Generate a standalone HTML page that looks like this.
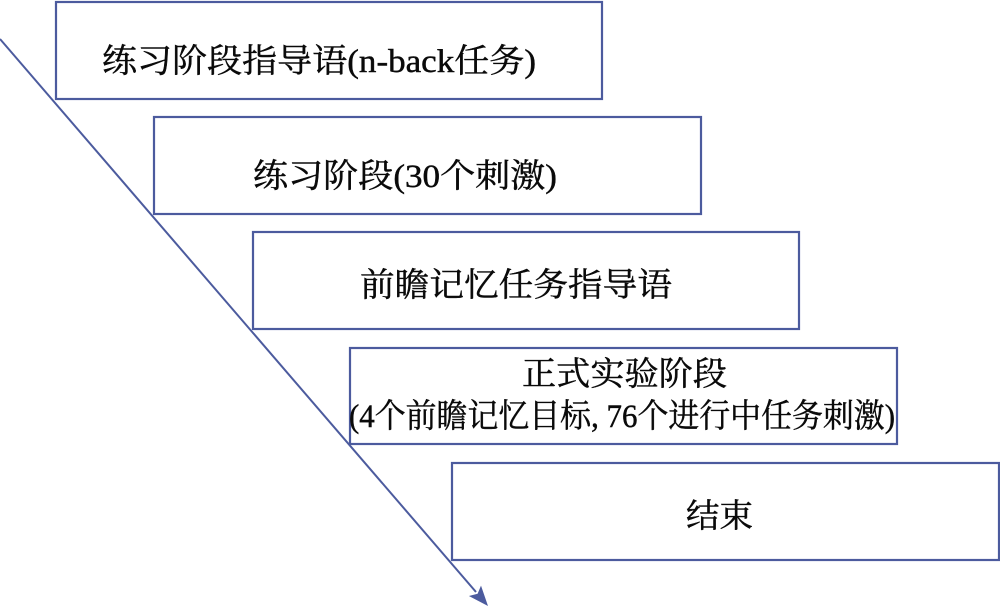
<!DOCTYPE html>
<html>
<head>
<meta charset="utf-8">
<style>
  html, body { margin: 0; padding: 0; background: #ffffff; }
  body { width: 1000px; height: 607px; overflow: hidden; }
  svg { display: block; }
  text { font-family: "Liberation Serif", "Noto Serif CJK SC", serif; fill: #0a0a0a; stroke: #0a0a0a; stroke-width: 0.45px; font-size: 33px; }
</style>
</head>
<body>
<svg width="1000" height="607" viewBox="0 0 1000 607" xmlns="http://www.w3.org/2000/svg">
  <rect x="0" y="0" width="1000" height="607" fill="#ffffff"/>

  <!-- diagonal arrow -->
  <line x1="0" y1="39" x2="476" y2="592" stroke="#4c5b9e" stroke-width="2"/>
  <polygon points="488,606 468.9,596 477.6,593.8 481,585.6" fill="#4c5b9e"/>

  <!-- boxes -->
  <rect x="56" y="2" width="546" height="97" fill="#ffffff" stroke="#4c5b9e" stroke-width="2.2"/>
  <rect x="154" y="117" width="547" height="97" fill="#ffffff" stroke="#4c5b9e" stroke-width="2.2"/>
  <rect x="253" y="232" width="546" height="97" fill="#ffffff" stroke="#4c5b9e" stroke-width="2.2"/>
  <rect x="350" y="348" width="547" height="96" fill="#ffffff" stroke="#4c5b9e" stroke-width="2.2"/>
  <rect x="452" y="463" width="547" height="97" fill="#ffffff" stroke="#4c5b9e" stroke-width="2.2"/>

  <!-- labels -->
  <text x="102" y="72" textLength="434" lengthAdjust="spacingAndGlyphs">练习阶段指导语(n-back任务)</text>
  <text x="253" y="187" textLength="304" lengthAdjust="spacingAndGlyphs">练习阶段(30个刺激)</text>
  <text x="360" y="296" textLength="312" lengthAdjust="spacingAndGlyphs">前瞻记忆任务指导语</text>
  <text x="522" y="385" textLength="205" lengthAdjust="spacingAndGlyphs">正式实验阶段</text>
  <text x="349" y="427" textLength="546" lengthAdjust="spacingAndGlyphs">(4个前瞻记忆目标, 76个进行中任务刺激)</text>
  <text x="686" y="527" textLength="67" lengthAdjust="spacingAndGlyphs">结束</text>
</svg>
</body>
</html>
